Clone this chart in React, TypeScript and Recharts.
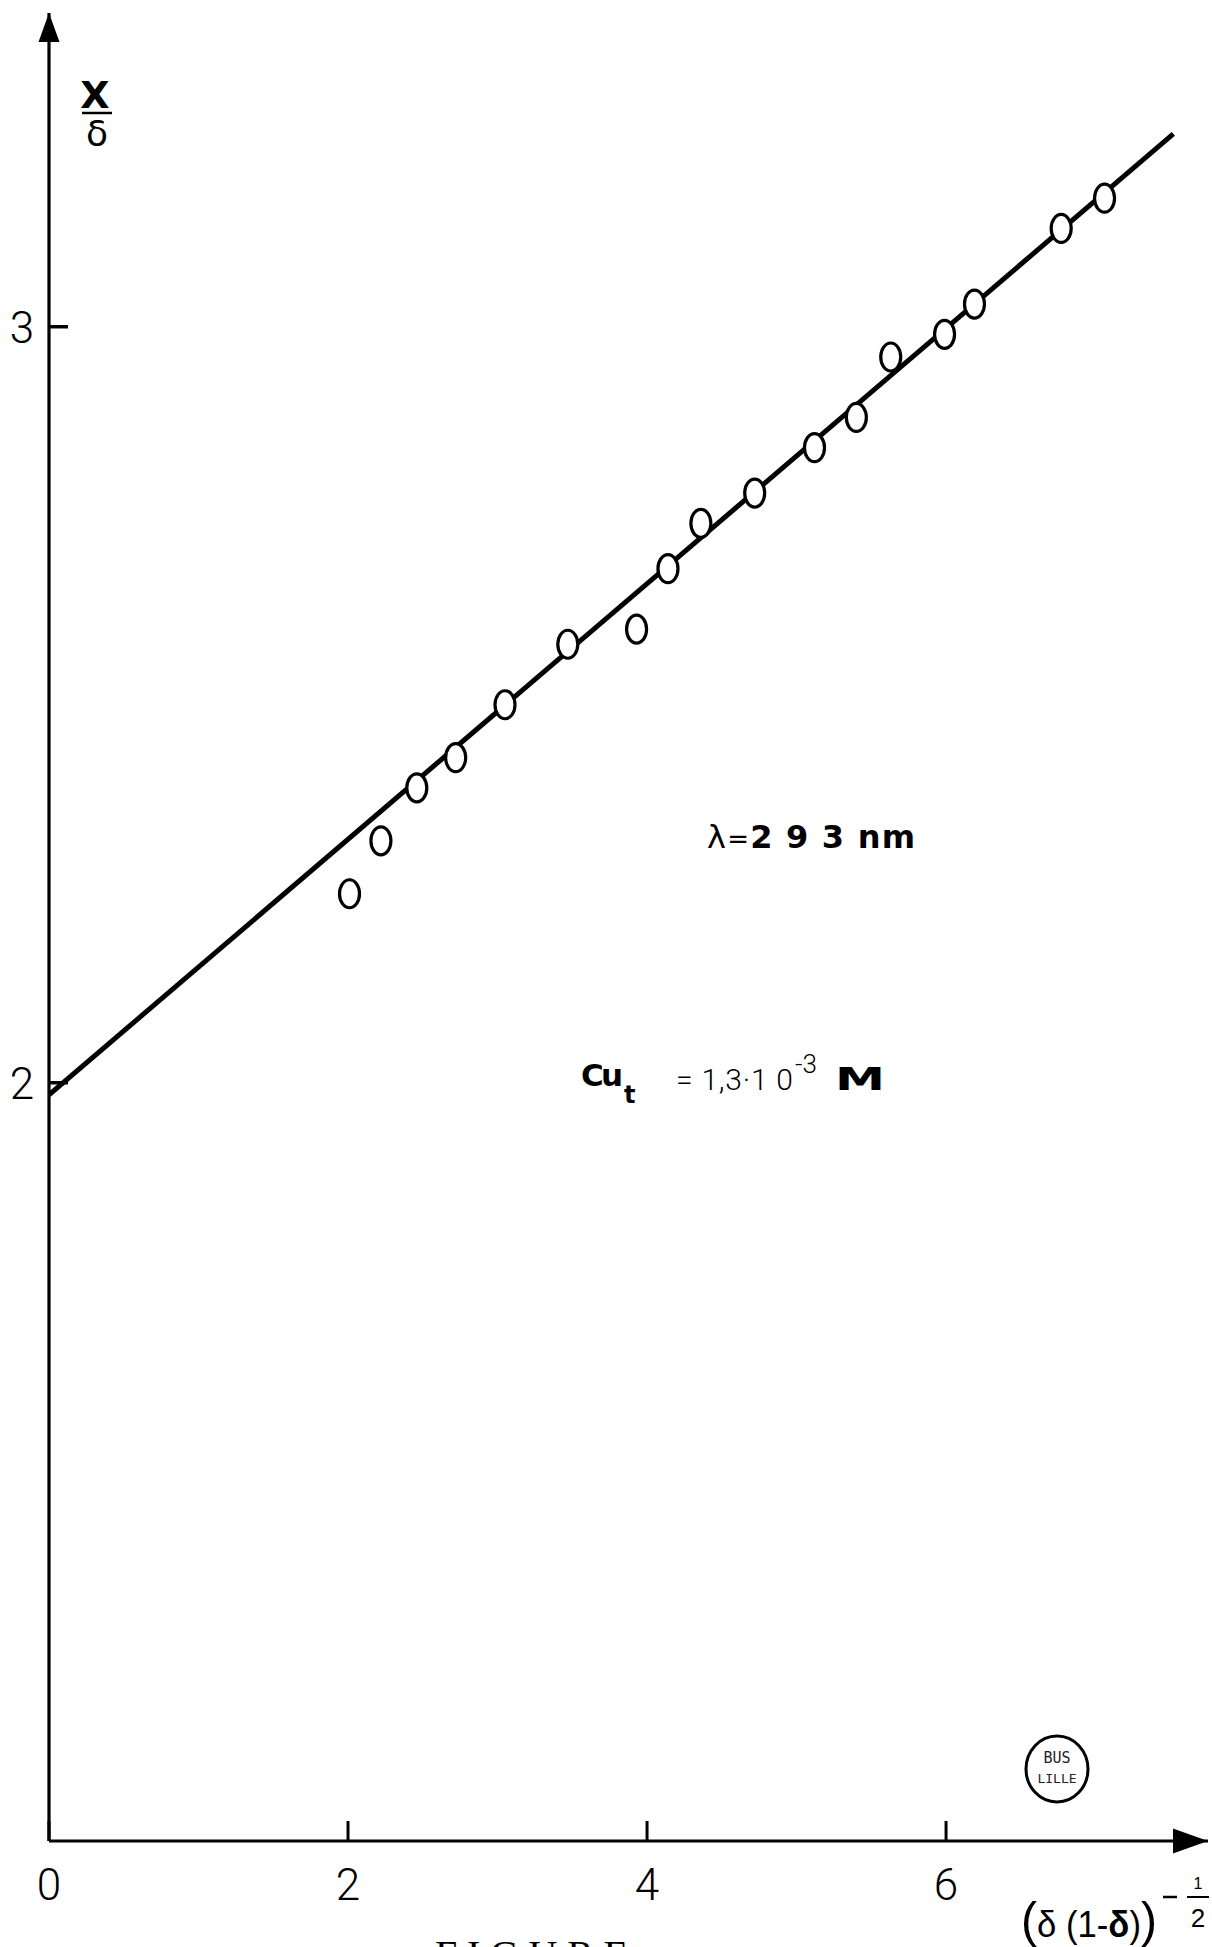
import React from "react";
import { ScatterChart, Scatter, XAxis, YAxis, ReferenceDot } from "recharts";

// measured points: x = (δ(1-δ))^-1/2, y = X/δ
const pointX = [2.01, 2.22, 2.46, 2.72, 3.05, 3.47, 3.93, 4.14, 4.36, 4.72, 5.12, 5.4, 5.63, 5.99, 6.19, 6.77, 7.06];
const pointY = [2.25, 2.32, 2.39, 2.43, 2.5, 2.58, 2.6, 2.68, 2.74, 2.78, 2.84, 2.88, 2.96, 2.99, 3.03, 3.13, 3.17];

// fitted straight line end points
const fitX = [0, 7.52];
const fitY = [1.984, 3.255];

const xTicks = [0, 2, 4, 6];
const yTicks = [2, 3];
const xDomain: [number, number] = [0, 7.752];
const yDomain: [number, number] = [0.997, 3.415];

const points = pointX.map((x, i) => ({ x, y: pointY[i] }));
const fitLine = fitX.map((x, i) => ({ x, y: fitY[i] }));

const W = 1212;
const H = 1947;
const tickFont = "Roboto, 'Liberation Sans', sans-serif";
const labelFont = "'Liberation Sans', Arial, sans-serif";

const XTick = (props: any) => {
  const { x, y, payload } = props;
  return (
    <g>
      <line x1={x} y1={y} x2={x} y2={y - 20} stroke="#000" strokeWidth={3} />
      <text x={x} y={y + 59} textAnchor="middle" fontSize={44} fontWeight={300} fontFamily={tickFont} fill="#000">
        {payload.value}
      </text>
    </g>
  );
};

const YTick = (props: any) => {
  const { x, y, payload } = props;
  return (
    <g>
      <line x1={x} y1={y} x2={x + 19} y2={y} stroke="#000" strokeWidth={3.5} />
      <text x={x - 27} y={y + 16} textAnchor="middle" fontSize={44} fontWeight={300} fontFamily={tickFont} fill="#000">
        {payload.value}
      </text>
    </g>
  );
};

const Marker = (props: any) => {
  const { cx, cy } = props;
  if (cx == null || cy == null) return <g />;
  return <ellipse cx={cx} cy={cy} rx={10} ry={14} fill="#fff" stroke="#000" strokeWidth={3.2} />;
};

const UpArrow = (props: any) => {
  const { cx, cy } = props;
  return <path d={`M${cx},${cy} L${cx - 10.5},${cy + 29} L${cx + 10.5},${cy + 29} Z`} fill="#000" />;
};

const RightArrow = (props: any) => {
  const { cx, cy } = props;
  return <path d={`M${cx},${cy} L${cx - 35},${cy - 12.5} L${cx - 35},${cy + 12.5} Z`} fill="#000" />;
};

export default function App() {
  return (
    <div style={{ position: "relative", width: W, height: H, background: "#fff", overflow: "hidden" }}>
      <style>{`body{margin:0;background:#fff}`}</style>
      <ScatterChart width={W} height={H} margin={{ top: 13, right: 4, bottom: 0, left: 0 }}>
        <XAxis
          type="number"
          dataKey="x"
          domain={xDomain}
          ticks={xTicks}
          allowDataOverflow
          height={106}
          tickSize={0}
          tickMargin={0}
          tickLine={false}
          axisLine={{ stroke: "#000", strokeWidth: 3.2 }}
          tick={<XTick />}
          interval={0}
        />
        <YAxis
          type="number"
          dataKey="y"
          domain={yDomain}
          ticks={yTicks}
          allowDataOverflow
          width={49}
          tickSize={0}
          tickMargin={0}
          tickLine={false}
          axisLine={{ stroke: "#000", strokeWidth: 3.2 }}
          tick={<YTick />}
          interval={0}
        />
        <Scatter
          data={fitLine}
          line={{ stroke: "#000", strokeWidth: 5 }}
          shape={() => <g />}
          isAnimationActive={false}
        />
        <Scatter data={points} shape={<Marker />} isAnimationActive={false} />
        <ReferenceDot x={xDomain[0]} y={yDomain[1]} ifOverflow="visible" shape={<UpArrow />} />
        <ReferenceDot x={xDomain[1]} y={yDomain[0]} ifOverflow="visible" shape={<RightArrow />} />
      </ScatterChart>

      <svg width={W} height={H} style={{ position: "absolute", left: 0, top: 0, pointerEvents: "none" }}>
        {/* Y axis label X / δ */}
        <text x={95} y={108} textAnchor="middle" fontSize={38} fontWeight={700} fontFamily="'DejaVu Sans', sans-serif" fill="#000">
          X
        </text>
        <line x1={82} y1={113} x2={112} y2={113} stroke="#000" strokeWidth={2.5} />
        <text x={97} y={146} textAnchor="middle" fontSize={36} fontFamily="'DejaVu Sans', sans-serif" fill="#000">
          δ
        </text>

        {/* X axis label */}
        <text x={1021} y={1937} fontFamily={labelFont} fill="#000" textLength={136} lengthAdjust="spacingAndGlyphs">
          <tspan fontSize={50}>(</tspan>
          <tspan fontSize={36}>δ (1-</tspan>
          <tspan fontSize={36} fontWeight={700}>δ</tspan>
          <tspan fontSize={36}>)</tspan>
          <tspan fontSize={50}>)</tspan>
        </text>
        <line x1={1163} y1={1897} x2={1177} y2={1897} stroke="#000" strokeWidth={2.5} />
        <text x={1198} y={1889} textAnchor="middle" fontSize={16} fontFamily={labelFont} fill="#000">
          1
        </text>
        <line x1={1187} y1={1897} x2={1209} y2={1897} stroke="#000" strokeWidth={2} />
        <text x={1198} y={1927} textAnchor="middle" fontSize={26} fontFamily={labelFont} fill="#000">
          2
        </text>

        {/* λ annotation */}
        <text x={707} y={848} fontSize={32} fontFamily="'DejaVu Sans', sans-serif" fill="#000" textLength={208} lengthAdjust="spacing">
          <tspan>λ</tspan>
          <tspan fontSize={26}>=</tspan>
          <tspan fontWeight={700}>2 9 3  nm</tspan>
        </text>

        {/* Cu annotation */}
        <text x={581} y={1086} fontSize={31} fontWeight={700} fontFamily="'DejaVu Sans', sans-serif" fill="#000" textLength={42} lengthAdjust="spacing">
          Cu
        </text>
        <text x={624} y={1103} fontSize={24} fontWeight={700} fontFamily="'DejaVu Sans', sans-serif" fill="#000">
          t
        </text>
        <text x={676} y={1090} fontSize={30} fontWeight={300} fontFamily={tickFont} fill="#000" textLength={117} lengthAdjust="spacing">
          = 1,3·1 0
        </text>
        <text x={795} y={1073} fontSize={26} fontWeight={300} fontFamily={tickFont} fill="#000">
          -3
        </text>
        <text x={835} y={1090} fontSize={32} fontWeight={700} fontFamily="'DejaVu Sans', sans-serif" fill="#000" textLength={50} lengthAdjust="spacingAndGlyphs">
          M
        </text>

        {/* library stamp */}
        <ellipse cx={1057} cy={1769} rx={31} ry={33} fill="none" stroke="#000" strokeWidth={3} />
        <text x={1057} y={1763} textAnchor="middle" fontSize={15} fontFamily="'DejaVu Sans Mono', monospace" fill="#222">
          BUS
        </text>
        <text x={1057} y={1783} textAnchor="middle" fontSize={13} fontFamily="'DejaVu Sans Mono', monospace" fill="#222">
          LILLE
        </text>

        {/* cut-off caption */}
        <text x={435} y={1968} fontSize={40} fontFamily="'Liberation Serif', serif" fill="#000" textLength={193} lengthAdjust="spacing">
          FIGURE
        </text>
      </svg>
    </div>
  );
}
